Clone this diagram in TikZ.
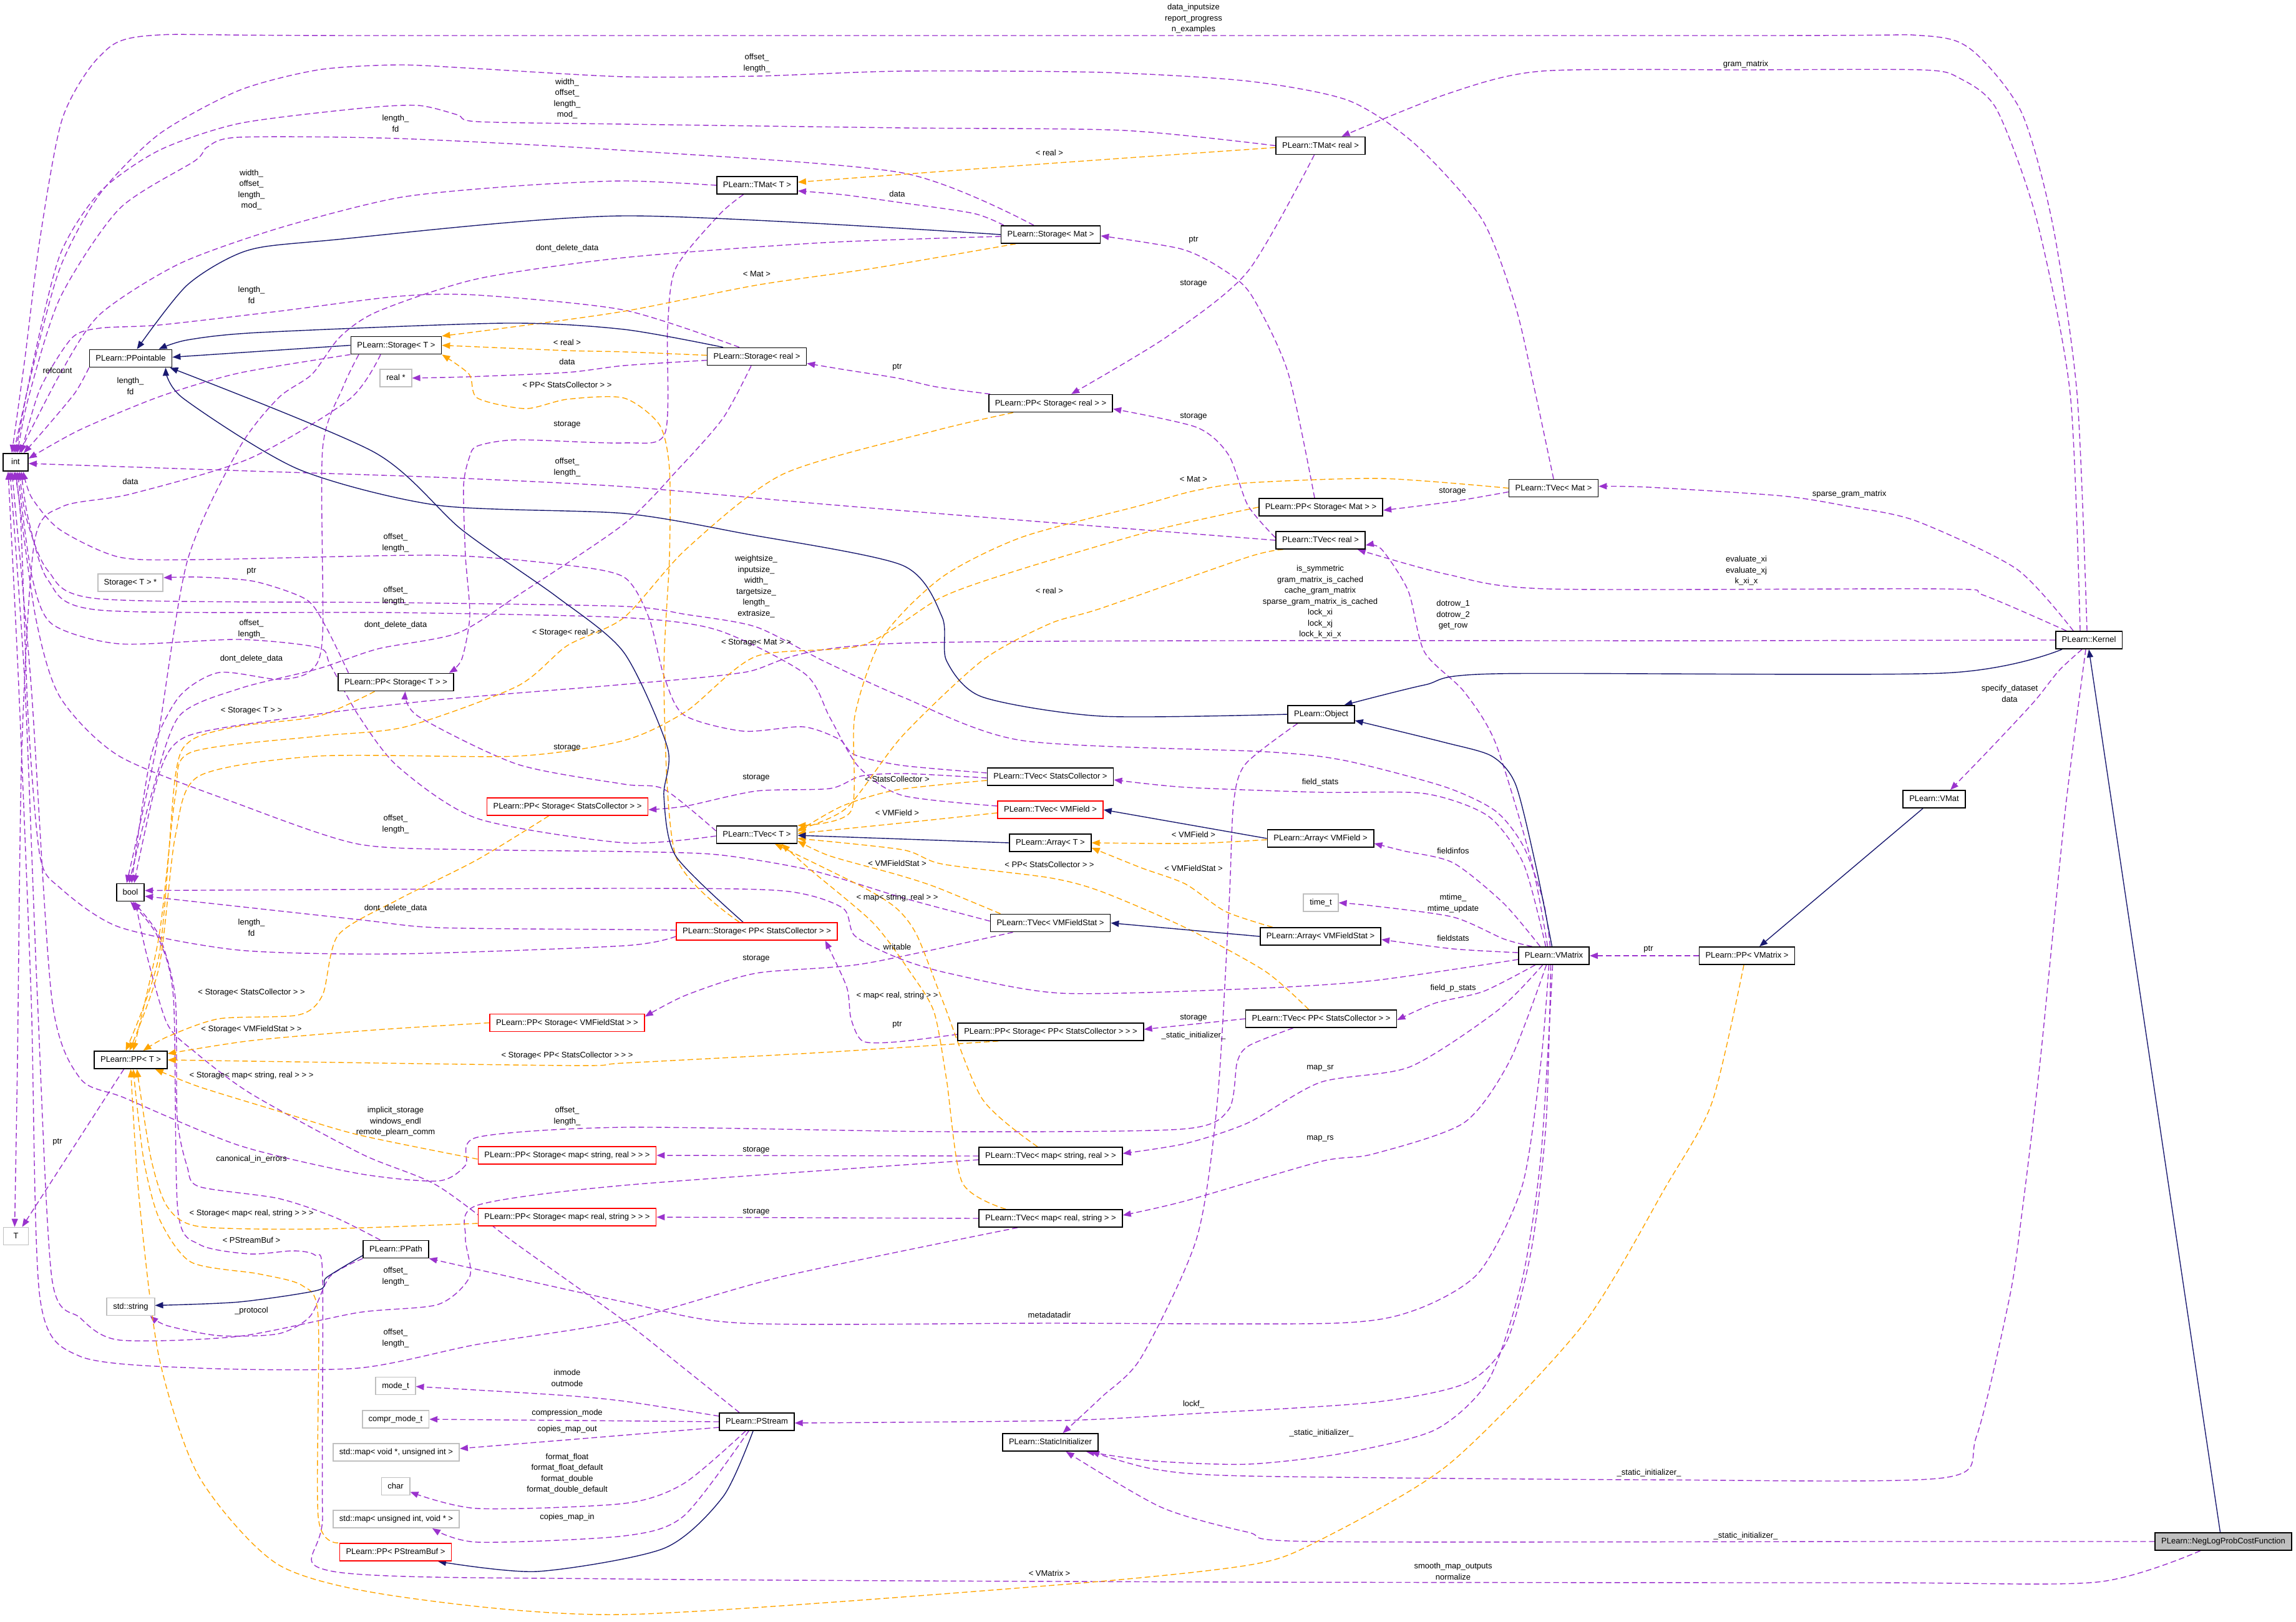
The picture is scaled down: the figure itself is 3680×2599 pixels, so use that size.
\documentclass[tikz,border=0pt]{standalone}
\usepackage{fontspec}
\setmainfont{Liberation Sans}
\usetikzlibrary{arrows.meta}
\definecolor{dpurple}{HTML}{9A32CD}
\definecolor{dorange}{HTML}{FFA500}
\definecolor{dblue}{HTML}{191970}
\definecolor{dgray}{HTML}{BFBFBF}
\newcommand\dxfont{\fontsize{13}{17.5}\selectfont}
\pgfdeclarelayer{bg}
\pgfdeclarelayer{edges}
\pgfsetlayers{bg,edges,main}
\tikzset{
  cls/.style={rectangle, draw=black, line width=1.7pt, fill=white, font=\dxfont,
    minimum height=28pt, minimum width=40pt, inner xsep=10pt, inner ysep=0pt,
    text height=9.5pt, text depth=2.5pt},
  ext/.style={cls, draw=dgray},
  trn/.style={cls, draw=red},
  root/.style={cls, fill=dgray},
  lbl/.style={font=\dxfont, align=center, inner sep=0pt},
  tip/.style={-{Triangle[length=13pt,width=10pt]}},
  pe/.style={draw=dpurple, line width=1.4pt, dash pattern=on 9pt off 5pt, tip},
  oe/.style={draw=dorange, line width=1.4pt, dash pattern=on 9pt off 5pt, tip},
  ie/.style={draw=dblue, line width=1.4pt, tip},
}
\begin{document}
\begin{tikzpicture}[x=1pt,y=-1pt]
\useasboundingbox (0,0) rectangle (3680,2599);
\begin{pgfonlayer}{bg}
\fill[white] (0,0) rectangle (3680,2599);
\end{pgfonlayer}
% ---------------- nodes
\node[cls] (int) at (25,741) {int};
\node[cls] (PPointable) at (209.5,574.5) {PLearn::PPointable};
\node[cls] (StorageT) at (635,553.5) {PLearn::Storage< T >};
\node[ext] (realptr) at (634.5,606) {real *};
\node[cls] (StorageReal) at (1213,571.5) {PLearn::Storage< real >};
\node[cls] (TMatT) at (1213.5,297) {PLearn::TMat< T >};
\node[cls] (StorageMat) at (1684,376) {PLearn::Storage< Mat >};
\node[cls] (TMatReal) at (2116.5,233.5) {PLearn::TMat< real >};
\node[cls] (PPStorageReal) at (1684,646.5) {PLearn::PP< Storage< real > >};
\node[cls] (PPStorageMat) at (2117,813) {PLearn::PP< Storage< Mat > >};
\node[cls] (TVecMat) at (2490,782.5) {PLearn::TVec< Mat >};
\node[cls] (TVecReal) at (2116.5,866) {PLearn::TVec< real >};
\node[cls] (Kernel) at (3348,1026) {PLearn::Kernel};
\node[cls] (Object) at (2117.5,1145) {PLearn::Object};
\node[cls] (VMat) at (3100,1281) {PLearn::VMat};
\node[ext] (StorageTptr) at (209,934) {Storage< T > *};
\node[cls] (PPStorageT) at (634.5,1093.5) {PLearn::PP< Storage< T > >};
\node[cls] (TVecSC) at (1683.5,1245) {PLearn::TVec< StatsCollector >};
\node[trn] (PPStorageSC) at (909.5,1293) {PLearn::PP< Storage< StatsCollector > >};
\node[trn] (TVecVMField) at (1683.5,1298) {PLearn::TVec< VMField >};
\node[cls] (TVecT) at (1213,1338) {PLearn::TVec< T >};
\node[cls] (ArrayT) at (1683.5,1351) {PLearn::Array< T >};
\node[cls] (ArrayVMField) at (2116.5,1344) {PLearn::Array< VMField >};
\node[cls] (bool) at (209,1430.5) {bool};
\node[ext] (timet) at (2117,1447) {time\_t};
\node[cls] (TVecVMFS) at (1683.5,1479.5) {PLearn::TVec< VMFieldStat >};
\node[cls] (ArrayVMFS) at (2116.5,1501) {PLearn::Array< VMFieldStat >};
\node[trn] (StoragePPSC) at (1213,1493) {PLearn::Storage< PP< StatsCollector > >};
\node[cls] (VMatrix) at (2490.5,1532) {PLearn::VMatrix};
\node[cls] (PPVMatrix) at (2800,1532) {PLearn::PP< VMatrix >};
\node[trn] (PPStorageVMFS) at (909,1639.5) {PLearn::PP< Storage< VMFieldStat > >};
\node[cls] (PPT) at (209.5,1699) {PLearn::PP< T >};
\node[cls] (PPStoragePPSC) at (1684,1654) {PLearn::PP< Storage< PP< StatsCollector > > >};
\node[cls] (TVecPPSC) at (2117.5,1633) {PLearn::TVec< PP< StatsCollector > >};
\node[trn] (PPStorageMapSR) at (909,1852) {PLearn::PP< Storage< map< string, real > > >};
\node[cls] (TVecMapSR) at (1684,1853) {PLearn::TVec< map< string, real > >};
\node[ext] (T) at (25.5,1981.5) {T};
\node[trn] (PPStorageMapRS) at (909,1951) {PLearn::PP< Storage< map< real, string > > >};
\node[cls] (TVecMapRS) at (1684,1953) {PLearn::TVec< map< real, string > >};
\node[cls] (PPath) at (634.5,2002.5) {PLearn::PPath};
\node[ext] (stdstring) at (209.5,2094.5) {std::string};
\node[ext] (modet) at (634,2221.5) {mode\_t};
\node[ext] (comprmodet) at (634,2275) {compr\_mode\_t};
\node[ext] (mapvoid) at (635,2328) {std::map< void *, unsigned int >};
\node[ext] (char) at (634,2382.5) {char};
\node[ext] (mapuint) at (635,2435) {std::map< unsigned int, void * >};
\node[trn] (PPStreamBuf) at (634,2488) {PLearn::PP< PStreamBuf >};
\node[cls] (PStream) at (1213,2279) {PLearn::PStream};
\node[cls] (StaticInit) at (1683.5,2312) {PLearn::StaticInitializer};
\node[root] (NegLog) at (3563.5,2471) {PLearn::NegLogProbCostFunction};
% ---------------- labels
\node[lbl] (l1) at (1913,30) {data\_inputsize\\report\_progress\\n\_examples};
\node[lbl] (l2) at (1213,101) {offset\_\\length\_};
\node[lbl] (l3) at (2798,103) {gram\_matrix};
\node[lbl] (l4) at (909,158) {width\_\\offset\_\\length\_\\mod\_};
\node[lbl] (l5) at (634,198) {length\_\\fd};
\node[lbl] (l6) at (1682,245) {< real >};
\node[lbl] (l7) at (403,304) {width\_\\offset\_\\length\_\\mod\_};
\node[lbl] (l8) at (1438,311) {data};
\node[lbl] (l9) at (1913,385) {ptr};
\node[lbl] (l10) at (909,398) {dont\_delete\_data};
\node[lbl] (l11) at (1213,439) {< Mat >};
\node[lbl] (l12) at (1913,455) {storage};
\node[lbl] (l13) at (403,473) {length\_\\fd};
\node[lbl] (l14) at (909,549) {< real >};
\node[lbl] (l15) at (909,580) {data};
\node[lbl] (l16) at (1438,589) {ptr};
\node[lbl] (l17) at (92,594) {refcount};
\node[lbl] (l18) at (209,619) {length\_\\fd};
\node[lbl] (l19) at (909,617) {< PP< StatsCollector > >};
\node[lbl] (l20) at (909,681) {storage};
\node[lbl] (l21) at (1913,668) {storage};
\node[lbl] (l22) at (909,749) {offset\_\\length\_};
\node[lbl] (l23) at (1913,768) {< Mat >};
\node[lbl] (l24) at (209,772) {data};
\node[lbl] (l25) at (2328,788) {storage};
\node[lbl] (l26) at (2964,792) {sparse\_gram\_matrix};
\node[lbl] (l27) at (634,870) {offset\_\\length\_};
\node[lbl] (l28) at (1212,940) {weightsize\_\\inputsize\_\\width\_\\targetsize\_\\length\_\\extrasize\_};
\node[lbl] (l29) at (2799,915) {evaluate\_xi\\evaluate\_xj\\k\_xi\_x};
\node[lbl] (l30) at (403,916) {ptr};
\node[lbl] (l31) at (1682,947) {< real >};
\node[lbl] (l32) at (634,955) {offset\_\\length\_};
\node[lbl] (l33) at (2116,965) {is\_symmetric\\gram\_matrix\_is\_cached\\cache\_gram\_matrix\\sparse\_gram\_matrix\_is\_cached\\lock\_xi\\lock\_xj\\lock\_k\_xi\_x};
\node[lbl] (l34) at (2329,986) {dotrow\_1\\dotrow\_2\\get\_row};
\node[lbl] (l35) at (403,1008) {offset\_\\length\_};
\node[lbl] (l36) at (634,1002) {dont\_delete\_data};
\node[lbl] (l37) at (909,1014) {< Storage< real > >};
\node[lbl] (l38) at (1212,1030) {< Storage< Mat > >};
\node[lbl] (l39) at (403,1056) {dont\_delete\_data};
\node[lbl] (l40) at (3221,1112) {specify\_dataset\\data};
\node[lbl] (l41) at (403,1139) {< Storage< T > >};
\node[lbl] (l42) at (909,1199) {storage};
\node[lbl] (l43) at (1212,1247) {storage};
\node[lbl] (l44) at (1438,1249) {< StatsCollector >};
\node[lbl] (l45) at (2116,1254) {field\_stats};
\node[lbl] (l46) at (1438,1303) {< VMField >};
\node[lbl] (l47) at (634,1321) {offset\_\\length\_};
\node[lbl] (l48) at (1913,1338) {< VMField >};
\node[lbl] (l49) at (2329,1364) {fieldinfos};
\node[lbl] (l50) at (1438,1384) {< VMFieldStat >};
\node[lbl] (l51) at (1682,1386) {< PP< StatsCollector > >};
\node[lbl] (l52) at (1913,1392) {< VMFieldStat >};
\node[lbl] (l53) at (1438,1439) {< map< string, real > >};
\node[lbl] (l54) at (2329,1448) {mtime\_\\mtime\_update};
\node[lbl] (l55) at (634,1456) {dont\_delete\_data};
\node[lbl] (l56) at (403,1487) {length\_\\fd};
\node[lbl] (l57) at (2329,1504) {fieldstats};
\node[lbl] (l58) at (1438,1518) {writable};
\node[lbl] (l59) at (2642,1522) {ptr};
\node[lbl] (l60) at (1212,1537) {storage};
\node[lbl] (l61) at (2329,1584) {field\_p\_stats};
\node[lbl] (l62) at (403,1591) {< Storage< StatsCollector > >};
\node[lbl] (l63) at (1438,1596) {< map< real, string > >};
\node[lbl] (l64) at (1913,1632) {storage};
\node[lbl] (l65) at (1438,1643) {ptr};
\node[lbl] (l66) at (403,1650) {< Storage< VMFieldStat > >};
\node[lbl] (l67) at (1913,1660) {\_static\_initializer\_};
\node[lbl] (l68) at (909,1692) {< Storage< PP< StatsCollector > > >};
\node[lbl] (l69) at (2116,1712) {map\_sr};
\node[lbl] (l70) at (403,1724) {< Storage< map< string, real > > >};
\node[lbl] (l71) at (634,1798) {implicit\_storage\\windows\_endl\\remote\_plearn\_comm};
\node[lbl] (l72) at (909,1789) {offset\_\\length\_};
\node[lbl] (l73) at (2116,1825) {map\_rs};
\node[lbl] (l74) at (92,1831) {ptr};
\node[lbl] (l75) at (1212,1844) {storage};
\node[lbl] (l76) at (403,1858) {canonical\_in\_errors};
\node[lbl] (l77) at (403,1945) {< Storage< map< real, string > > >};
\node[lbl] (l78) at (1212,1943) {storage};
\node[lbl] (l79) at (403,1988) {< PStreamBuf >};
\node[lbl] (l80) at (634,2046) {offset\_\\length\_};
\node[lbl] (l81) at (403,2101) {\_protocol};
\node[lbl] (l82) at (1682,2108) {metadatadir};
\node[lbl] (l83) at (634,2145) {offset\_\\length\_};
\node[lbl] (l84) at (909,2209) {inmode\\outmode};
\node[lbl] (l85) at (1913,2251) {lockf\_};
\node[lbl] (l86) at (909,2265) {compression\_mode};
\node[lbl] (l87) at (909,2291) {copies\_map\_out};
\node[lbl] (l88) at (2118,2297) {\_static\_initializer\_};
\node[lbl] (l89) at (909,2362) {format\_float\\format\_float\_default\\format\_double\\format\_double\_default};
\node[lbl] (l90) at (2643,2361) {\_static\_initializer\_};
\node[lbl] (l91) at (909,2432) {copies\_map\_in};
\node[lbl] (l92) at (2798,2462) {\_static\_initializer\_};
\node[lbl] (l93) at (1682,2522) {< VMatrix >};
\node[lbl] (l94) at (2329,2519) {smooth\_map\_outputs\\normalize};
% ---------------- edges
\begin{pgfonlayer}{edges}
% purple: to int (top / right)
\draw[pe] plot[smooth,tension=0.45] coordinates {([xshift=-3]Kernel.north) (3329,631) (3290,360) (3240,180) (3160,80) (3080,57) (2800,57) (600,57) (240,57) (160,90) (100,190) (64,383) (40,574) ([xshift=-6]int.north)};
\draw[pe] plot[smooth,tension=0.45] coordinates {(TVecMat.north) (2461,631) (2429,491) (2375,351) (2268,231) (2161,161) (2000,130) (1765,116) (1446,114) (1213,122) (1000,123) (765,110) (638,104) (510,112) (383,145) (255,215) (160,311) (96,430) (50,600) ([xshift=-3]int.north)};
\draw[pe] plot[smooth,tension=0.45] coordinates {(TMatReal.west) (1800,209) (1446,205) (1000,199) (765,195) (733,184) (670,169) (574,174) (383,198) (255,241) (160,308) (96,409) (51,590) ([xshift=0]int.north)};
\draw[pe] plot[smooth,tension=0.45] coordinates {([xshift=-27]StorageMat.north) (1446,277) (1000,241) (638,222) (383,220) (332,236) (312,258) (191,335) (96,478) (45,640) ([xshift=3]int.north)};
\draw[pe] plot[smooth,tension=0.45] coordinates {(TMatT.west) (1000,290) (829,298) (638,317) (446,366) (287,423) (160,504) (96,600) ([xshift=6]int.north)};
\draw[pe] plot[smooth,tension=0.45] coordinates {([xshift=-28]StorageReal.north) (1000,497) (765,473) (638,475) (446,499) (255,521) (160,526) (115,542) (64,624) ([xshift=9]int.north)};
\draw[pe] plot[smooth,tension=0.45] coordinates {(PPointable.south west) (120,630) (70,690) ([xshift=13]int.north)};
\draw[pe] plot[smooth,tension=0.45] coordinates {(StorageT.south west) (383,598) (255,636) (128,689) ([yshift=6]int.east)};
\draw[pe] plot[smooth,tension=0.45] coordinates {(TVecReal.west) (1638,834) (1319,808) (1000,780) (700,765) (400,755) ([yshift=-2]int.east)};
% purple: to int (bottom)
\draw[pe] plot[smooth,tension=0.45] coordinates {([yshift=6]TVecSC.west) (1446,1227) (1370,1210) (1345,1185) (1287,1165) (1191,1172) (1096,1146) (1064,1083) (1040,990) (1000,925) (900,905) (702,890) (319,897) (191,893) (96,849) (51,798) ([xshift=12]int.south)};
\draw[pe] plot[smooth,tension=0.45] coordinates {([yshift=6]TVecVMField.west) (1446,1275) (1376,1229) (1330,1150) (1290,1080) (1150,1010) (1000,990) (638,982) (160,978) (77,930) (45,830) ([xshift=9]int.south)};
\draw[pe] plot[smooth,tension=0.45] coordinates {([xshift=-6]VMatrix.north) (2474,1446) (2442,1357) (2397,1300) (2315,1261) (2155,1219) (2028,1205) (1638,1187) (1446,1117) (1319,1059) (1212,1005) (1100,985) (1000,972) (640,966) (160,960) (77,915) (42,830) ([xshift=6]int.south)};
\draw[pe] plot[smooth,tension=0.45] coordinates {([yshift=-2]TVecT.west) (1000,1351) (765,1312) (638,1229) (574,1146) (529,1065) (510,1038) (383,1025) (191,1032) (83,1000) (51,923) ([xshift=3]int.south)};
\draw[pe] plot[smooth,tension=0.45] coordinates {([yshift=3]TVecVMFS.west) (1450,1440) (1300,1395) (1150,1370) (1000,1365) (765,1362) (574,1353) (383,1289) (191,1212) (96,1117) (57,989) ([xshift=0]int.south)};
\draw[pe] plot[smooth,tension=0.45] coordinates {([yshift=-8]StoragePPSC.west) (1000,1516) (638,1529) (383,1523) (191,1486) (96,1423) (64,1372) (45,1148) (33,830) ([xshift=-3]int.south)};
\draw[pe] plot[smooth,tension=0.45] coordinates {([xshift=-45]TVecPPSC.south) (2002,1676) (1983,1702) (1969,1779) (1893,1810) (1510,1814) (1000,1807) (765,1823) (746,1868) (702,1893) (574,1881) (383,1836) (200,1760) (128,1728) (83,1600) (50,1100) ([xshift=-6]int.south)};
\draw[pe] plot[smooth,tension=0.45] coordinates {([yshift=-6]TVecMapSR.west) (1000,1900) (765,1932) (746,1983) (753,2046) (702,2091) (574,2104) (383,2142) (191,2148) (128,2112) (83,2048) (60,1600) (40,1100) ([xshift=-9]int.south)};
\draw[pe] plot[smooth,tension=0.45] coordinates {([xshift=-53]TVecMapRS.south) (1255,2046) (1000,2117) (765,2155) (574,2193) (319,2193) (128,2174) (64,2080) (50,1600) (30,1100) ([xshift=-12]int.south)};
% purple: to bool
\draw[pe] plot[smooth,tension=0.45] coordinates {([yshift=-3]StorageMat.west) (1319,389) (1000,413) (765,447) (606,499) (545,540) (500,600) (446,638) (383,719) (300,900) (250,1200) ([xshift=-6]bool.north)};
\draw[pe] plot[smooth,tension=0.45] coordinates {([xshift=-9]StorageReal.south) (1159,670) (1089,750) (1000,840) (829,955) (733,1015) (606,1040) (510,1072) (383,1104) (287,1148) (242,1276) ([xshift=-2]bool.north)};
\draw[pe] plot[smooth,tension=0.45] coordinates {([xshift=-60]StorageT.south) (550,620) (517,720) (517,1019) (497,1076) (446,1089) (351,1078) (287,1117) (242,1212) ([xshift=2]bool.north)};
\draw[pe] plot[smooth,tension=0.45] coordinates {(Kernel.west) (2800,1027) (1446,1031) (1191,1078) (1000,1097) (700,1122) (470,1150) (300,1180) (255,1240) ([xshift=6]bool.north)};
\draw[pe] plot[smooth,tension=0.45] coordinates {([yshift=2]StoragePPSC.west) (1000,1490) (702,1487) (574,1474) ([yshift=-6]bool.east)};
\draw[pe] plot[smooth,tension=0.45] coordinates {([yshift=-6]VMatrix.west) (2200,1572) (2000,1585) (1700,1592) (1520,1560) (1438,1535) (1370,1500) (1350,1455) (1255,1428) (1000,1424) ([yshift=3]bool.east)};
\draw[pe] plot[smooth,tension=0.45] coordinates {([xshift=-28]PStream.north) (1096,2193) (1000,2117) (829,1995) (700,1900) (580,1850) (402,1753) (312,1686) (268,1641) (235,1530) ([xshift=8]bool.south)};
\draw[pe] plot[smooth,tension=0.45] coordinates {([xshift=-25]PPath.north) (536,1951) (446,1921) (319,1902) (300,1870) (284,1791) (281,1600) (255,1500) ([xshift=4]bool.south)};
\draw[pe] plot[smooth,tension=0.45] coordinates {([xshift=-37]NegLog.south) (3361,2536) (3000,2537) (2000,2536) (1000,2531) (529,2518) (517,2429) (517,2046) (505,2012) (470,2005) (400,2010) (320,1995) (285,1940) (278,1600) (252,1500) ([xshift=0]bool.south)};
% purple: others
\draw[pe] plot[smooth,tension=0.45] coordinates {([xshift=-14]Kernel.north) (3318,631) (3264,351) (3200,175) (3140,125) (3080,112) (2800,112) (2471,114) (2321,150) ([xshift=34]TMatReal.north)};
\draw[pe] plot[smooth,tension=0.45] coordinates {([xshift=-25]Kernel.north) (3232,912) (3071,835) (2964,812) (2857,795) (2643,781) ([yshift=3]TVecMat.east)};
\draw[pe] plot[smooth,tension=0.45] coordinates {([xshift=-36]Kernel.north) (3179,954) (3114,944) (2482,944) (2321,921) ([xshift=-13]TVecReal.south east)};
\draw[pe] plot[smooth,tension=0.45] coordinates {([xshift=-11]Kernel.south) (3300,1075) (3260,1125) (3190,1200) ([xshift=26]VMat.north)};
\draw[pe] plot[smooth,tension=0.45] coordinates {([xshift=-76]PPStorageT.north) (523,1006) (491,961) (408,932) (319,925) ([yshift=8]StorageTptr.east)};
\draw[pe] plot[smooth,tension=0.45] coordinates {([yshift=6]TVecT.west) (1064,1265) (1000,1257) (829,1225) (670,1148) ([xshift=15]PPStorageT.south)};
\draw[pe] plot[smooth,tension=0.45] coordinates {([xshift=-22]TMatT.south) (1153,344) (1083,430) (1070,526) (1066,694) (1000,710) (829,705) (765,715) (752,734) (743,779) (746,891) (753,987) (740,1057) ([xshift=-8]PPStorageT.north east)};
\draw[pe] plot[smooth,tension=0.45] coordinates {([xshift=-10]TMatReal.south) (2000,435) (1870,540) ([xshift=33]PPStorageReal.north)};
\draw[pe] plot[smooth,tension=0.45] coordinates {([xshift=-10]PPStorageMat.north) (2064,596) (2005,472) (1957,430) (1893,399) ([yshift=-2]StorageMat.east)};
\draw[pe] plot[smooth,tension=0.45] coordinates {([xshift=-97]PPStorageReal.north) (1500,620) (1438,606) (1350,592) ([yshift=-11]StorageReal.east)};
\draw[pe] plot[smooth,tension=0.45] coordinates {([xshift=-75]StorageMat.north) (1560,342) (1438,324) (1350,312) ([yshift=-9]TMatT.east)};
\draw[pe] plot[smooth,tension=0.45] coordinates {([yshift=-6]StorageReal.west) (1000,586) (909,597) (750,604) (realptr.east)};
\draw[pe] plot[smooth,tension=0.45] coordinates {([yshift=4]TVecReal.west) (2000,810) (1969,729) (1918,685) ([yshift=-9]PPStorageReal.east)};
\draw[pe] plot[smooth,tension=0.45] coordinates {([yshift=-6]TVecMat.west) (2328,804) ([yshift=-5]PPStorageMat.east)};
\draw[pe] plot[smooth,tension=0.45] coordinates {([xshift=-25]StorageT.south) (560,640) (400,735) (209,792) (100,812) (55,870) (35,1200) (28,1700) ([xshift=-2]T.north)};
\draw[pe] ([xshift=-11]PPT.south) -- ([xshift=10]T.north);
\draw[pe] plot[smooth,tension=0.45] coordinates {(PPath.south west) (529,2046) (497,2110) (446,2138) (351,2141) (268,2125) ([xshift=-8]stdstring.south east)};
\draw[pe] plot[smooth,tension=0.45] coordinates {([yshift=-2]TVecSC.west) (1450,1240) (1380,1244) (1330,1264) (1212,1268) (1100,1292) ([yshift=-5]PPStorageSC.east)};
\draw[pe] plot[smooth,tension=0.45] coordinates {([xshift=-60]TVecVMFS.south) (1383,1545) (1212,1560) (1100,1595) ([yshift=10]PPStorageVMFS.east)};
\draw[pe] (TVecPPSC.west) -- ([yshift=4]PPStoragePPSC.east);
\draw[pe] plot[smooth,tension=0.45] coordinates {([yshift=-4]PPStoragePPSC.west) (1438,1670) (1383,1669) (1364,1633) (1357,1582) ([xshift=-20]StoragePPSC.south east)};
\draw[pe] (TVecMapSR.west) -- (PPStorageMapSR.east);
\draw[pe] (TVecMapRS.west) -- (PPStorageMapRS.east);
\draw[pe] plot[smooth,tension=0.45] coordinates {([xshift=-38]Object.south) (1996,1225) (1977,1289) (1970,1448) (1951,1767) (1918,1985) (1829,2176) (1765,2240) ([xshift=20]StaticInit.north)};
\draw[pe] plot[smooth,tension=0.45] coordinates {([xshift=-2]VMatrix.south) (2470,1850) (2440,2050) (2386,2212) (2300,2292) (2150,2330) (2000,2347) (1850,2342) ([xshift=-20]StaticInit.south east)};
\draw[pe] plot[smooth,tension=0.45] coordinates {([xshift=-5]Kernel.south) (3310,1300) (3270,1700) (3240,1950) (3221,2079) (3168,2302) (3114,2369) (2643,2372) (2000,2366) (1850,2355) ([xshift=-12]StaticInit.south east)};
\draw[pe] plot[smooth,tension=0.45] coordinates {(NegLog.west) (3000,2471) (2107,2471) (2000,2456) (1861,2416) ([xshift=25]StaticInit.south)};
\draw[pe] plot[smooth,tension=0.45] coordinates {([yshift=9]PStream.west) (1000,2246) (893,2236) ([yshift=-1]modet.east)};
\draw[pe] (PStream.west) -- (comprmodet.east);
\draw[pe] plot[smooth,tension=0.45] coordinates {([yshift=-9]PStream.west) (909,2308) ([yshift=6]mapvoid.east)};
\draw[pe] plot[smooth,tension=0.45] coordinates {([xshift=-18]PStream.south) (1096,2378) (1000,2410) (765,2418) ([yshift=-9]char.east)};
\draw[pe] plot[smooth,tension=0.45] coordinates {([xshift=-13]PStream.south) (1096,2430) (1000,2462) (765,2472) ([xshift=-44]mapuint.south east)};
\draw[pe] plot[smooth,tension=0.45] coordinates {([xshift=-13]VMatrix.north) (2442,1385) (2385,1308) (2283,1272) (2116,1270) (1900,1262) ([yshift=-5]TVecSC.east)};
\draw[pe] plot[smooth,tension=0.45] coordinates {([xshift=-22]VMatrix.north) (2410,1448) (2329,1383) (2250,1364) ([yshift=-8]ArrayVMField.east)};
\draw[pe] plot[smooth,tension=0.45] coordinates {([xshift=-35]VMatrix.north) (2410,1505) (2329,1470) (2200,1452) (timet.east)};
\draw[pe] plot[smooth,tension=0.45] coordinates {([yshift=5]VMatrix.west) (2329,1521) ([yshift=-5]ArrayVMFS.east)};
\draw[pe] plot[smooth,tension=0.45] coordinates {([xshift=-30]VMatrix.south) (2378,1589) (2300,1608) ([yshift=-2]TVecPPSC.east)};
\draw[pe] plot[smooth,tension=0.45] coordinates {([xshift=-18]VMatrix.south) (2400,1620) (2260,1710) (2116,1735) (2000,1800) (1900,1833) ([yshift=4]TVecMapSR.east)};
\draw[pe] plot[smooth,tension=0.45] coordinates {([xshift=-12]VMatrix.south) (2420,1700) (2346,1800) (2200,1850) (2116,1862) (1900,1925) ([yshift=5]TVecMapRS.east)};
\draw[pe] plot[smooth,tension=0.45] coordinates {([xshift=-8]VMatrix.south) (2470,1700) (2440,1900) (2370,2040) (2268,2100) (2139,2121) (1682,2121) (1191,2121) (1000,2087) (PPath.south east)};
\draw[pe] plot[smooth,tension=0.45] coordinates {([xshift=-5]VMatrix.south) (2478,1800) (2455,2000) (2415,2150) (2350,2217) (2200,2248) (1913,2266) (1702,2277) ([yshift=-2]PStream.east)};
\draw[pe] plot[smooth,tension=0.45] coordinates {([xshift=-10]VMatrix.north) (2455,1383) (2397,1191) (2346,1108) (2283,1045) (2257,947) (2214,880) ([yshift=-8]TVecReal.east)};
\draw[pe] (PPVMatrix.west) -- (VMatrix.east);
% orange: template instances
\draw[oe] plot[smooth,tension=0.45] coordinates {([yshift=2]StorageReal.west) (1000,564) (909,562) (StorageT.east)};
\draw[oe] plot[smooth,tension=0.45] coordinates {([xshift=-56]StorageMat.south) (1400,430) (1213,457) (1000,499) (800,527) (StorageT.north east)};
\draw[oe] plot[smooth,tension=0.45] coordinates {([xshift=-28]StoragePPSC.north) (1083,1372) (1064,1097) (1073,893) (1073,752) (1057,681) (1000,638) (909,640) (842,655) (765,638) (752,600) (StorageT.south east)};
\draw[oe] plot[smooth,tension=0.45] coordinates {([yshift=-3]TMatReal.west) (1682,262) ([yshift=5]TMatT.east)};
\draw[oe] plot[smooth,tension=0.45] coordinates {([xshift=-60]PPStorageReal.south) (1500,690) (1255,760) (1100,880) (1000,990) (909,1035) (829,1100) (650,1165) (510,1180) (306,1206) (281,1276) (255,1500) ([xshift=4]PPT.north)};
\draw[oe] plot[smooth,tension=0.45] coordinates {(PPStorageMat.west) (1850,850) (1638,912) (1510,957) (1383,1034) (1212,1052) (1100,1140) (1000,1187) (829,1212) (510,1212) (319,1244) (281,1340) (255,1550) ([xshift=-2]PPT.north)};
\draw[oe] plot[smooth,tension=0.45] coordinates {([xshift=-34]PPStorageT.south) (510,1148) (383,1164) (306,1187) (281,1244) (255,1531) ([xshift=-8]PPT.north)};
\draw[oe] plot[smooth,tension=0.45] coordinates {([xshift=-30]PPStorageSC.south) (765,1378) (638,1442) (542,1499) (517,1595) (478,1627) (351,1633) (268,1662) ([xshift=20]PPT.north)};
\draw[oe] plot[smooth,tension=0.45] coordinates {(PPStorageVMFS.west) (600,1651) (403,1668) ([yshift=10]PPT.east)};
\draw[oe] plot[smooth,tension=0.45] coordinates {([xshift=-84]PPStoragePPSC.south) (1319,1687) (1000,1704) (909,1708) (PPT.east)};
\draw[oe] plot[smooth,tension=0.45] coordinates {([yshift=-6]PPStorageMapSR.west) (574,1819) (446,1781) (319,1742) ([xshift=-20]PPT.south east)};
\draw[oe] plot[smooth,tension=0.45] coordinates {([yshift=-10]PPStorageMapRS.west) (510,1970) (319,1966) (268,1934) (242,1857) ([xshift=10]PPT.south)};
\draw[oe] plot[smooth,tension=0.45] coordinates {([xshift=-92]PPStreamBuf.north) (510,2431) (510,2112) (485,2061) (415,2042) (306,2023) (255,1953) (230,1857) ([xshift=4]PPT.south)};
\draw[oe] plot[smooth,tension=0.45] coordinates {([xshift=-5]PPVMatrix.south) (2744,1767) (2670,1902) (2536,2125) (2321,2348) (2107,2473) (2000,2509) (1702,2540) (1000,2588) (638,2559) (446,2508) (319,2367) (255,2176) (223,1921) ([xshift=0]PPT.south)};
\draw[oe] plot[smooth,tension=0.45] coordinates {(TVecMat.west) (2214,767) (2000,774) (1913,787) (1829,810) (1638,861) (1510,925) (1415,1021) (1370,1148) (1364,1300) (TVecT.north east)};
\draw[oe] plot[smooth,tension=0.45] coordinates {([xshift=-60]TVecReal.south) (2000,893) (1765,975) (1682,1000) (1574,1059) (1446,1180) (1357,1295) ([yshift=8]TVecT.east)};
\draw[oe] plot[smooth,tension=0.45] coordinates {([yshift=-6]TVecSC.west) (1438,1266) (1350,1292) ([yshift=5]TVecT.east)};
\draw[oe] plot[smooth,tension=0.45] coordinates {([yshift=-5]TVecVMField.west) (1438,1320) ([yshift=2]TVecT.east)};
\draw[oe] plot[smooth,tension=0.45] coordinates {([xshift=-80]TVecVMFS.north) (1500,1422) (1438,1402) (1330,1372) ([yshift=-10]TVecT.east)};
\draw[oe] plot[smooth,tension=0.45] coordinates {([xshift=-20]TVecPPSC.north) (2028,1557) (1900,1487) (1765,1429) (1682,1407) (1510,1385) (1446,1362) ([yshift=-6]TVecT.east)};
\draw[oe] plot[smooth,tension=0.45] coordinates {([xshift=-21]TVecMapSR.north) (1574,1761) (1510,1602) (1470,1500) (1438,1457) (1383,1422) ([xshift=29]TVecT.south)};
\draw[oe] plot[smooth,tension=0.45] coordinates {([xshift=-72]TVecMapRS.north) (1542,1895) (1517,1730) (1497,1622) (1460,1560) (1400,1480) (1300,1395) ([xshift=40]TVecT.south)};
\draw[oe] plot[smooth,tension=0.45] coordinates {([yshift=-2]ArrayVMField.west) (1913,1352) (ArrayT.east)};
\draw[oe] plot[smooth,tension=0.45] coordinates {([xshift=-77]ArrayVMFS.north) (1964,1461) (1900,1417) (1829,1391) ([yshift=-8]ArrayT.east)};
% solid: inheritance
\draw[ie] (StorageT.west) -- ([yshift=2]PPointable.east);
\draw[ie] plot[smooth,tension=0.45] coordinates {([xshift=-54]StorageReal.north) (1000,528) (810,518) (415,533) (300,545) ([xshift=45]PPointable.north)};
\draw[ie] plot[smooth,tension=0.45] coordinates {(StorageMat.west) (1000,346) (529,385) (395,402) (300,457) ([xshift=10]PPointable.north)};
\draw[ie] plot[smooth,tension=0.45] coordinates {(Object.west) (1765,1148) (1574,1117) (1517,1059) (1510,989) (1446,906) (1191,855) (1000,823) (702,810) (478,752) (293,638) ([xshift=56]PPointable.south)};
\draw[ie] plot[smooth,tension=0.45] coordinates {([xshift=-22]StoragePPSC.north) (1083,1372) (1064,1276) (1070,1199) (1000,1046) (893,957) (740,849) (600,725) ([xshift=-4]PPointable.south east)};
\draw[ie] plot[smooth,tension=0.45] coordinates {([xshift=-43]Kernel.south) (3114,1079) (2397,1080) (2283,1098) ([xshift=37]Object.north)};
\draw[ie] plot[smooth,tension=0.45] coordinates {([xshift=-3]VMatrix.north) (2461,1385) (2429,1257) (2391,1212) (2315,1190) ([yshift=-10]Object.east)};
\draw[ie] (ArrayT.west) -- ([yshift=-1]TVecT.east);
\draw[ie] (ArrayVMField.west) -- (TVecVMField.east);
\draw[ie] (ArrayVMFS.west) -- (TVecVMFS.east);
\draw[ie] ([xshift=-18]VMat.south) -- ([xshift=20]PPVMatrix.north);
\draw[ie] ([xshift=-5]NegLog.north) -- (Kernel.south);
\draw[ie] plot[smooth,tension=0.45] coordinates {([yshift=-10]PPath.west) (523,2048) (510,2068) (383,2087) ([yshift=2]stdstring.east)};
\draw[ie] plot[smooth,tension=0.45] coordinates {([xshift=-6]PStream.south) (1159,2399) (1064,2482) (861,2519) ([xshift=68]PPStreamBuf.south)};
\end{pgfonlayer}
\end{tikzpicture}
\end{document}
